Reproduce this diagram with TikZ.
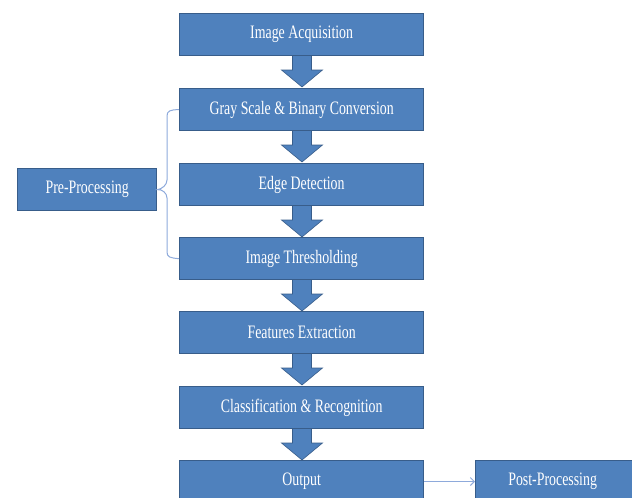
\documentclass[tikz,border=0pt]{standalone}
\usepackage{fontspec}
\newfontfamily\boxfont[FakeStretch=0.73]{Liberation Serif}
\usetikzlibrary{arrows.meta}
\definecolor{boxfill}{HTML}{4F81BD}
\definecolor{boxedge}{HTML}{385D8A}
\definecolor{linkcol}{HTML}{8EAADB}
\tikzset{
  stepbox/.style={draw=boxedge, line width=1.3pt, fill=boxfill, text=white,
    font=\boxfont\fontsize{19}{22}\selectfont, inner sep=0pt, anchor=north west},
  blockarrow/.style={fill=boxfill, draw=boxedge, line width=0.6pt},
  link/.style={draw=linkcol, line width=1pt}
}
\begin{document}
\begin{tikzpicture}[x=1pt,y=-1pt]
\useasboundingbox (0,0) rectangle (632,498);
\begin{scope}
\clip (0,0) rectangle (632,498);
% block arrows between main boxes
\foreach \t in {55,130,205,279,353,428}{
  \draw[blockarrow] (292.5,\t) -- (311.5,\t) -- (311.5,\t+15) -- (322.5,\t+15) -- (302,\t+32) -- (281.5,\t+15) -- (292.5,\t+15) -- cycle;
}
\node[stepbox, minimum width=244pt, minimum height=42pt] (acq) at (179,13) {Image Acquisition};
\node[stepbox, minimum width=244pt, minimum height=42pt] (gray) at (179,88) {Gray Scale \& Binary Conversion};
\node[stepbox, minimum width=244pt, minimum height=42pt] (edge) at (179,163) {Edge Detection};
\node[stepbox, minimum width=244pt, minimum height=42pt] (thr) at (179,237) {Image Thresholding};
\node[stepbox, minimum width=244pt, minimum height=42pt] (feat) at (179,311) {Features Extraction};
\node[stepbox, minimum width=244pt, minimum height=42pt] (cls) at (179,386) {Classification \& Recognition};
\node[stepbox, minimum width=244pt, minimum height=42pt] (out) at (179,460) {Output};
\node[stepbox, minimum width=160pt, minimum height=42pt] (post) at (475,460) {\hspace*{-3pt}Post-Processing\hspace*{3pt}};
\node[stepbox, minimum width=139pt, minimum height=42pt] (pre) at (17,168) {Pre-Processing};
\end{scope}
% brace
\draw[link] (gray.west) .. controls +(-9,0) and +(0,-5) .. ([xshift=-12pt]gray.west |- 0,116)
  -- (167,180) .. controls (167,185) and (162,189) .. (pre.east)
  .. controls (162,189) and (167,193) .. (167,198)
  -- (167,252) .. controls (167,257) and (170,258) .. (thr.west);
% output to post
\draw[link, -{Straight Barb[length=4pt,width=8pt]}] (out.east |- 0,481.5) -- (post.west |- 0,481.5);
\end{tikzpicture}
\end{document}
